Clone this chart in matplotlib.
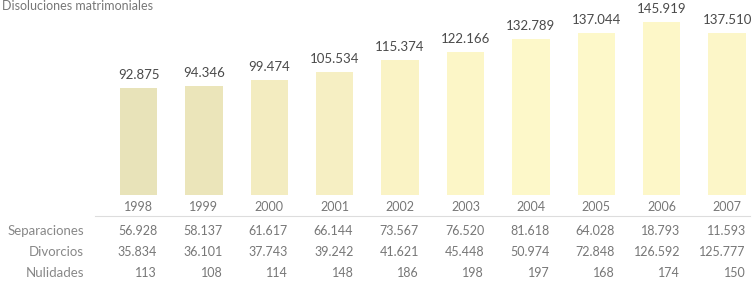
import matplotlib.pyplot as plt
from matplotlib.transforms import blended_transform_factory

# Datos: disoluciones matrimoniales por año
years = ['1998', '1999', '2000', '2001', '2002', '2003', '2004', '2005', '2006', '2007']
totales = [92875, 94346, 99474, 105534, 115374, 122166, 132789, 137044, 145919, 137510]
separaciones = [56928, 58137, 61617, 66144, 73567, 76520, 81618, 64028, 18793, 11593]
divorcios = [35834, 36101, 37743, 39242, 41621, 45448, 50974, 72848, 126592, 125777]
nulidades = [113, 108, 114, 148, 186, 198, 197, 168, 174, 150]
row_names = ['Separaciones', 'Divorcios', 'Nulidades']

bar_colors = ['#e8e3b9', '#ebe5ba', '#f3ecc0', '#f6efc3', '#faf3c5',
              '#fcf6c7', '#fdf8c9', '#fdf8c9', '#fdf7c8', '#fcf6c8']


def fmt(v):
    return f'{v:,}'.replace(',', '.')


plt.rcParams['font.family'] = ['Lato', 'DejaVu Sans']

W, H = 756, 286
fig = plt.figure(figsize=(W / 100, H / 100), dpi=100)

# eje de barras: base en y=195 px
ax = fig.add_axes([0, (H - 195) / H, 1, 195 / H])
x = list(range(len(years)))
ax.bar(x, totales, width=0.57, color=bar_colors, linewidth=0)
ax.set_xlim(-2.118, 9.442)
ax.set_ylim(6900, 163800)
ax.axis('off')

for xi, v in zip(x, totales):
    ax.annotate(fmt(v), (xi, v), xytext=(0, 5), textcoords='offset points',
                ha='center', va='bottom', fontsize=9.5, color='#4a4a4a')

tr = blended_transform_factory(ax.transData, fig.transFigure)


def fy(py):
    return 1 - py / H


# fila de años
for xi, yr in zip(x, years):
    fig.text(xi, fy(207), yr, transform=tr, ha='center', va='center',
             fontsize=9, color='#777777')

# línea bajo los años
fig.add_artist(plt.Line2D([95 / W, 750 / W], [fy(216), fy(216)],
                          color='#dddddd', linewidth=0.8))

# filas de la tabla
rows = [separaciones, divorcios, nulidades]
row_y = [231, 252, 273]
for name, vals, py in zip(row_names, rows, row_y):
    fig.text(84 / W, fy(py), name, ha='right', va='center',
             fontsize=9.5, color='#888888')
    for xi, v in zip(x, vals):
        fig.text(xi + 0.285, fy(py), fmt(v), transform=tr, ha='right',
                 va='center', fontsize=9, color='#777777')

# título
fig.text(2 / W, fy(10), 'Disoluciones matrimoniales', ha='left',
         va='baseline', fontsize=9, color='#777777')

fig.savefig('out.png', dpi=100)
